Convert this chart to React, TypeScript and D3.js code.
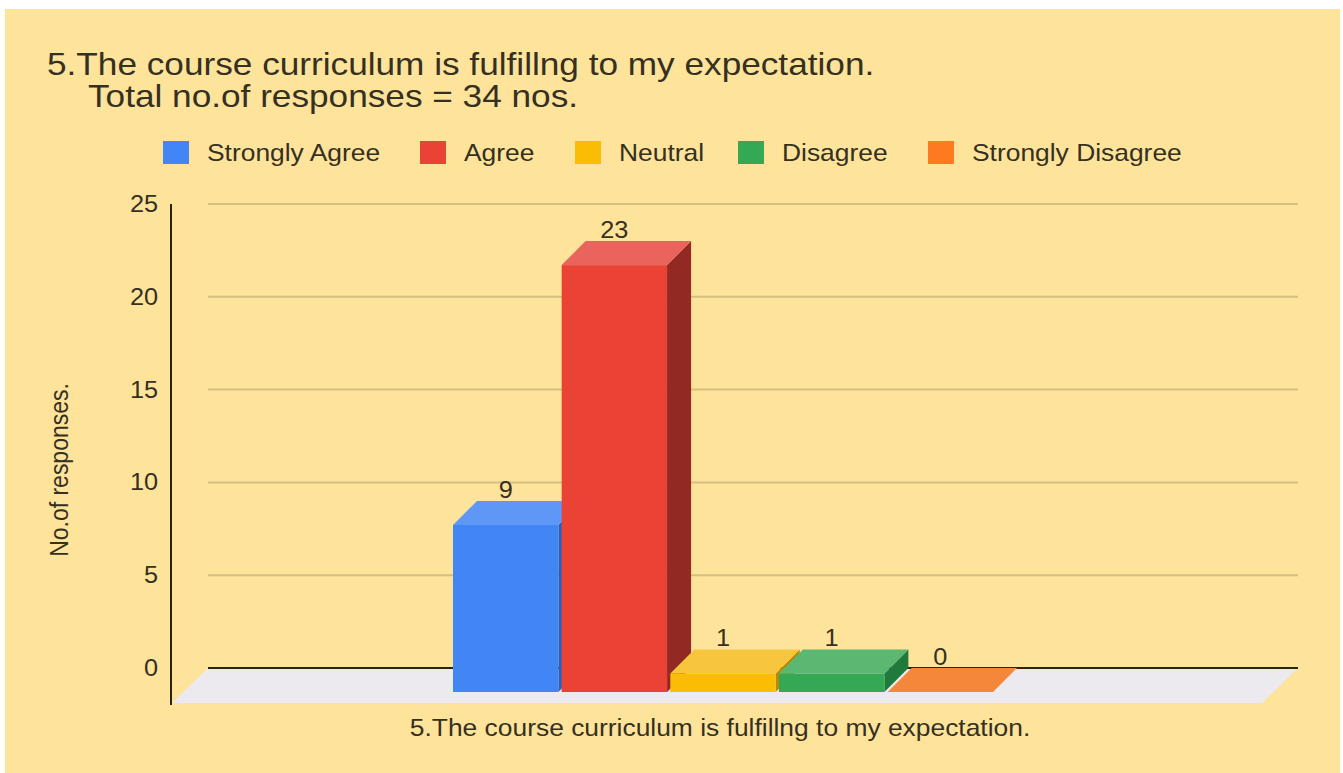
import React from "react";
import * as d3 from "d3";

const categories = ["5.The course curriculum is fulfillng to my expectation."];
const seriesNames = ["Strongly Agree", "Agree", "Neutral", "Disagree", "Strongly Disagree"];
const seriesValues = [9, 23, 1, 1, 0];
const yTicks = [0, 5, 10, 15, 20, 25];
const titleLines = ["5.The course curriculum is fulfillng to my expectation.", "Total no.of responses = 34 nos."];
const yAxisTitle = "No.of responses.";

const palette = [
  { front: "#4285f4", top: "#5f97f6", side: "#2c5fb8" },
  { front: "#ea4335", top: "#e8645c", side: "#932923" },
  { front: "#fbbc04", top: "#f7c63c", side: "#b88a05" },
  { front: "#34a853", top: "#5bb873", side: "#1f7a3b" },
  { front: "#ff7a1f", top: "#f5873a", side: "#b85010" },
];

const W = 1343;
const H = 773;
const FONT = "'Liberation Sans', Arial, Helvetica, sans-serif";
const TEXT = "#35301f";
const SX = 1.1; // horizontal stretch of text in the reference

export default function App() {
  const back = { left: 208, right: 1298 };
  const yScale = d3.scaleLinear().domain([0, 25]).range([668, 204]);
  const D = 24; // bar depth
  const floorDx = -36;
  const floorDy = 35;

  const x0 = d3.scaleBand().domain(categories).range([back.left + floorDx, back.right + floorDx]);
  const groupCenter = (x0(categories[0]) as number) + x0.bandwidth() / 2;
  const x1 = d3
    .scaleBand()
    .domain(seriesNames)
    .range([groupCenter - 264, groupCenter + 276])
    .paddingInner(0.03);

  const y0 = yScale(0);
  const floorPts = [
    [back.left, y0],
    [back.right, y0],
    [back.right + floorDx, y0 + floorDy],
    [back.left + floorDx, y0 + floorDy],
  ];

  const legendX = [163, 420, 575, 738, 928];

  const poly = (pts: number[][]) => pts.map((p) => p.join(",")).join(" ");

  return (
    <svg width={W} height={H} style={{ position: "absolute", left: 0, top: 0 }} fontFamily={FONT}>
      <rect x={0} y={0} width={W} height={H} fill="#ffffff" />
      <rect x={5} y={9} width={1335} height={764} fill="#fee39b" />

      {/* title */}
      <g transform={`translate(47,75) scale(${SX},1)`}>
        <text fontSize={32} fill={TEXT}>{titleLines[0]}</text>
      </g>
      <g transform={`translate(88,107) scale(${SX},1)`}>
        <text fontSize={32} fill={TEXT}>{titleLines[1]}</text>
      </g>

      {/* legend */}
      {seriesNames.map((s, i) => (
        <g key={s}>
          <rect x={legendX[i]} y={141} width={26} height={23} fill={palette[i].front} />
          <g transform={`translate(${legendX[i] + 44},161) scale(${SX},1)`}>
            <text fontSize={24} fill={TEXT}>{s}</text>
          </g>
        </g>
      ))}

      {/* floor */}
      <polygon points={poly(floorPts)} fill="#eceaee" />

      {/* gridlines */}
      {yTicks.filter((t) => t !== 0).map((t) => (
        <line key={t} x1={back.left} x2={back.right} y1={yScale(t)} y2={yScale(t)} stroke="#d5bf80" strokeWidth={2} />
      ))}
      <line x1={back.left} x2={back.right} y1={y0} y2={y0} stroke="#2a2418" strokeWidth={2} />

      {/* y axis line */}
      <line x1={171} x2={171} y1={yScale(25)} y2={y0 + floorDy + 2} stroke="#2a2418" strokeWidth={2} />

      {/* y tick labels */}
      {yTicks.map((t) => (
        <g key={t} transform={`translate(158,${yScale(t) + 8}) scale(${SX},1)`}>
          <text fontSize={23} fill={TEXT} textAnchor="end">{t}</text>
        </g>
      ))}

      {/* y axis title */}
      <g transform={`translate(68,470) scale(${SX},1) rotate(-90)`}>
        <text fontSize={23} fill={TEXT} textAnchor="middle">{yAxisTitle}</text>
      </g>

      {/* bars */}
      {seriesNames.map((s, i) => {
        const v = seriesValues[i];
        const x = x1(s) as number;
        const w = x1.bandwidth();
        const top = yScale(v) + D;
        const bottom = y0 + D;
        const c = palette[i];
        const side = [
          [x + w, top],
          [x + w + D, top - D],
          [x + w + D, bottom - D],
          [x + w, bottom],
        ];
        const topFace = [
          [x, top],
          [x + w, top],
          [x + w + D, top - D],
          [x + D, top - D],
        ];
        return (
          <g key={s}>
            {v > 0 && <polygon points={poly(side)} fill={c.side} />}
            {v > 0 && <rect x={x} y={top} width={w} height={bottom - top} fill={c.front} />}
            <polygon points={poly(topFace)} fill={c.top} />
          </g>
        );
      })}

      {/* data labels */}
      {seriesNames.map((s, i) => (
        <g key={s} transform={`translate(${(x1(s) as number) + x1.bandwidth() / 2},${yScale(seriesValues[i]) - 3}) scale(${SX},1)`}>
          <text fontSize={23} fill={TEXT} textAnchor="middle">{seriesValues[i]}</text>
        </g>
      ))}

      {/* x axis label */}
      <g transform={`translate(720,736) scale(${SX},1)`}>
        <text fontSize={24} fill={TEXT} textAnchor="middle">{categories[0]}</text>
      </g>
    </svg>
  );
}
